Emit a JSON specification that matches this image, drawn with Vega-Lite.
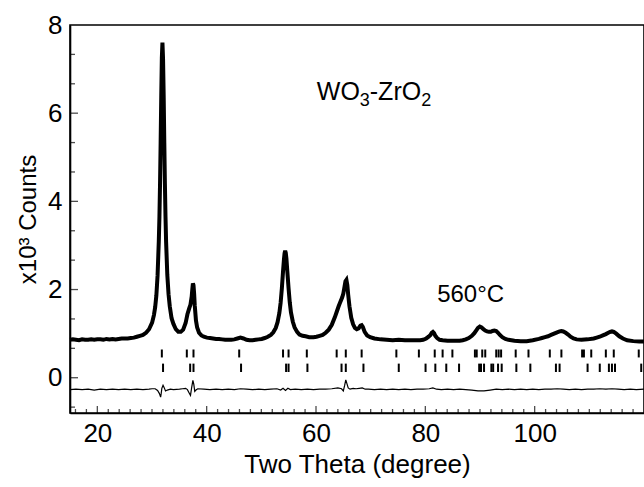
{
  "$schema": "https://vega.github.io/schema/vega-lite/v6.json",
  "width": 574,
  "height": 388,
  "autosize": "none",
  "padding": {"left": 70, "top": 25, "right": 0, "bottom": 74},
  "background": "white",
  "config": {
    "view": {"stroke": "black", "strokeWidth": 1.6},
    "font": "Liberation Sans",
    "axis": {"grid": false, "ticks": false, "tickSize": 0, "domainColor": "black", "domainWidth": 1.6, "labelColor": "black", "titleColor": "black", "labelFont": "Liberation Sans", "titleFont": "Liberation Sans", "titleFontWeight": "normal"}
  },
  "datasets": {
    "obs": [
      {"t":15.0,"c":0.86},{"t":15.53,"c":0.87},{"t":16.09,"c":0.86},{"t":16.65,"c":0.85},{"t":17.21,"c":0.87},{"t":17.76,"c":0.86},{"t":18.32,"c":0.86},{"t":18.88,"c":0.87},{"t":19.43,"c":0.86},{"t":19.99,"c":0.87},
      {"t":20.55,"c":0.87},{"t":21.10,"c":0.86},{"t":21.66,"c":0.88},{"t":22.22,"c":0.87},{"t":22.78,"c":0.88},{"t":23.33,"c":0.87},{"t":23.89,"c":0.88},{"t":24.45,"c":0.89},{"t":25.00,"c":0.89},{"t":25.56,"c":0.89},
      {"t":26.12,"c":0.90},{"t":26.68,"c":0.91},{"t":27.23,"c":0.93},{"t":27.79,"c":0.95},{"t":28.35,"c":0.97},{"t":28.90,"c":1.02},{"t":29.46,"c":1.10},{"t":30.02,"c":1.25},{"t":30.35,"c":1.42},{"t":30.58,"c":1.60},
      {"t":30.80,"c":1.87},{"t":31.02,"c":2.32},{"t":31.24,"c":3.08},{"t":31.36,"c":3.65},{"t":31.47,"c":4.40},{"t":31.58,"c":5.33},{"t":31.69,"c":6.36},{"t":31.80,"c":7.25},{"t":31.91,"c":7.60},{"t":32.02,"c":7.24},
      {"t":32.14,"c":6.36},{"t":32.25,"c":5.33},{"t":32.36,"c":4.40},{"t":32.47,"c":3.65},{"t":32.58,"c":3.08},{"t":32.80,"c":2.33},{"t":33.03,"c":1.89},{"t":33.25,"c":1.62},{"t":33.58,"c":1.35},{"t":33.92,"c":1.22},
      {"t":34.36,"c":1.10},{"t":34.81,"c":1.04},{"t":35.26,"c":1.04},{"t":35.70,"c":1.09},{"t":36.15,"c":1.24},{"t":36.48,"c":1.44},{"t":36.82,"c":1.58},{"t":37.04,"c":1.66},{"t":37.26,"c":1.84},{"t":37.37,"c":2.00},
      {"t":37.48,"c":2.14},{"t":37.59,"c":2.10},{"t":37.71,"c":1.90},{"t":37.82,"c":1.64},{"t":38.04,"c":1.30},{"t":38.26,"c":1.14},{"t":38.60,"c":1.02},{"t":39.04,"c":0.96},{"t":39.49,"c":0.93},{"t":40.05,"c":0.91},
      {"t":40.60,"c":0.90},{"t":41.16,"c":0.89},{"t":41.72,"c":0.88},{"t":42.27,"c":0.88},{"t":42.83,"c":0.87},{"t":43.39,"c":0.86},{"t":43.95,"c":0.86},{"t":44.50,"c":0.86},{"t":45.06,"c":0.87},{"t":45.62,"c":0.89},
      {"t":46.17,"c":0.91},{"t":46.73,"c":0.89},{"t":47.29,"c":0.86},{"t":47.85,"c":0.85},{"t":48.40,"c":0.85},{"t":48.96,"c":0.86},{"t":49.52,"c":0.87},{"t":50.07,"c":0.88},{"t":50.63,"c":0.90},{"t":51.19,"c":0.93},
      {"t":51.74,"c":0.97},{"t":52.19,"c":1.03},{"t":52.64,"c":1.13},{"t":52.97,"c":1.26},{"t":53.30,"c":1.47},{"t":53.53,"c":1.70},{"t":53.75,"c":2.02},{"t":53.97,"c":2.41},{"t":54.14,"c":2.69},{"t":54.25,"c":2.82},
      {"t":54.36,"c":2.88},{"t":54.47,"c":2.83},{"t":54.59,"c":2.70},{"t":54.75,"c":2.42},{"t":54.98,"c":2.03},{"t":55.20,"c":1.71},{"t":55.42,"c":1.48},{"t":55.76,"c":1.27},{"t":56.09,"c":1.14},{"t":56.54,"c":1.04},
      {"t":56.98,"c":0.98},{"t":57.54,"c":0.95},{"t":58.10,"c":0.94},{"t":58.76,"c":0.92},{"t":59.54,"c":0.92},{"t":60.10,"c":0.93},{"t":60.66,"c":0.95},{"t":61.22,"c":0.97},{"t":61.77,"c":1.02},{"t":62.33,"c":1.09},
      {"t":62.89,"c":1.20},{"t":63.44,"c":1.37},{"t":63.78,"c":1.49},{"t":64.11,"c":1.61},{"t":64.45,"c":1.72},{"t":64.78,"c":1.82},{"t":65.00,"c":1.91},{"t":65.23,"c":2.07},{"t":65.39,"c":2.19},{"t":65.56,"c":2.22},
      {"t":65.73,"c":2.10},{"t":65.89,"c":1.88},{"t":66.12,"c":1.62},{"t":66.45,"c":1.36},{"t":66.79,"c":1.21},{"t":67.12,"c":1.13},{"t":67.45,"c":1.10},{"t":67.79,"c":1.12},{"t":68.12,"c":1.18},{"t":68.35,"c":1.19},
      {"t":68.57,"c":1.15},{"t":68.90,"c":1.04},{"t":69.35,"c":0.96},{"t":69.91,"c":0.92},{"t":70.69,"c":0.89},{"t":71.80,"c":0.87},{"t":72.91,"c":0.86},{"t":74.03,"c":0.85},{"t":75.14,"c":0.86},{"t":76.26,"c":0.85},
      {"t":77.37,"c":0.85},{"t":78.48,"c":0.85},{"t":79.04,"c":0.85},{"t":79.60,"c":0.86},{"t":80.16,"c":0.89},{"t":80.60,"c":0.93},{"t":80.94,"c":0.97},{"t":81.16,"c":1.02},{"t":81.38,"c":1.04},{"t":81.60,"c":1.01},
      {"t":81.83,"c":0.95},{"t":82.16,"c":0.90},{"t":82.61,"c":0.86},{"t":83.16,"c":0.85},{"t":84.06,"c":0.84},{"t":85.17,"c":0.84},{"t":86.28,"c":0.84},{"t":86.84,"c":0.85},{"t":87.40,"c":0.87},{"t":87.95,"c":0.90},
      {"t":88.51,"c":0.95},{"t":88.96,"c":1.01},{"t":89.29,"c":1.07},{"t":89.63,"c":1.13},{"t":89.96,"c":1.16},{"t":90.29,"c":1.14},{"t":90.63,"c":1.10},{"t":90.96,"c":1.07},{"t":91.30,"c":1.05},{"t":91.63,"c":1.04},
      {"t":91.97,"c":1.04},{"t":92.30,"c":1.06},{"t":92.63,"c":1.07},{"t":92.97,"c":1.06},{"t":93.30,"c":1.02},{"t":93.64,"c":0.97},{"t":94.08,"c":0.92},{"t":94.64,"c":0.88},{"t":95.20,"c":0.86},{"t":95.75,"c":0.85},
      {"t":96.31,"c":0.84},{"t":97.43,"c":0.83},{"t":98.54,"c":0.83},{"t":99.65,"c":0.85},{"t":100.77,"c":0.88},{"t":101.33,"c":0.90},{"t":101.88,"c":0.92},{"t":102.44,"c":0.94},{"t":103.00,"c":0.97},{"t":103.55,"c":1.00},
      {"t":104.11,"c":1.03},{"t":104.56,"c":1.05},{"t":104.89,"c":1.06},{"t":105.23,"c":1.05},{"t":105.67,"c":1.02},{"t":106.12,"c":0.98},{"t":106.56,"c":0.93},{"t":107.12,"c":0.89},{"t":107.68,"c":0.87},{"t":108.57,"c":0.86},
      {"t":109.68,"c":0.87},{"t":110.80,"c":0.89},{"t":111.35,"c":0.91},{"t":111.91,"c":0.93},{"t":112.47,"c":0.96},{"t":113.02,"c":0.99},{"t":113.47,"c":1.02},{"t":113.80,"c":1.04},{"t":114.14,"c":1.05},{"t":114.47,"c":1.04},
      {"t":114.92,"c":1.00},{"t":115.48,"c":0.94},{"t":116.14,"c":0.89},{"t":116.92,"c":0.85},{"t":118.04,"c":0.83},{"t":119.15,"c":0.82},{"t":120.0,"c":0.82}
    ],
    "diff": [
      {"t":15.0,"d":-0.27},{"t":16.09,"d":-0.26},{"t":17.21,"d":-0.27},{"t":18.32,"d":-0.26},{"t":19.43,"d":-0.28},{"t":20.55,"d":-0.26},{"t":21.66,"d":-0.27},{"t":22.78,"d":-0.26},{"t":23.89,"d":-0.27},{"t":25.00,"d":-0.26},
      {"t":26.12,"d":-0.27},{"t":27.23,"d":-0.26},{"t":28.35,"d":-0.27},{"t":29.46,"d":-0.26},{"t":30.02,"d":-0.25},{"t":30.58,"d":-0.25},{"t":31.02,"d":-0.29},{"t":31.36,"d":-0.36},{"t":31.58,"d":-0.44},{"t":31.69,"d":-0.35},
      {"t":31.80,"d":-0.24},{"t":32.02,"d":-0.17},{"t":32.25,"d":-0.23},{"t":32.47,"d":-0.30},{"t":32.80,"d":-0.28},{"t":33.36,"d":-0.26},{"t":33.92,"d":-0.27},{"t":35.03,"d":-0.26},{"t":35.59,"d":-0.25},{"t":36.15,"d":-0.24},
      {"t":36.48,"d":-0.27},{"t":36.82,"d":-0.35},{"t":37.04,"d":-0.40},{"t":37.26,"d":-0.22},{"t":37.48,"d":-0.06},{"t":37.65,"d":-0.15},{"t":37.82,"d":-0.31},{"t":38.04,"d":-0.28},{"t":38.37,"d":-0.25},{"t":39.49,"d":-0.26},
      {"t":40.60,"d":-0.27},{"t":41.72,"d":-0.26},{"t":42.83,"d":-0.27},{"t":43.95,"d":-0.26},{"t":45.06,"d":-0.27},{"t":46.17,"d":-0.25},{"t":47.29,"d":-0.26},{"t":48.40,"d":-0.27},{"t":49.52,"d":-0.26},{"t":50.63,"d":-0.27},
      {"t":51.74,"d":-0.26},{"t":52.86,"d":-0.25},{"t":53.53,"d":-0.28},{"t":53.97,"d":-0.24},{"t":54.42,"d":-0.29},{"t":54.86,"d":-0.24},{"t":55.31,"d":-0.27},{"t":56.20,"d":-0.26},{"t":57.32,"d":-0.27},{"t":58.43,"d":-0.26},
      {"t":59.54,"d":-0.27},{"t":60.66,"d":-0.26},{"t":61.77,"d":-0.26},{"t":62.89,"d":-0.25},{"t":64.00,"d":-0.23},{"t":64.67,"d":-0.25},{"t":65.00,"d":-0.30},{"t":65.23,"d":-0.18},{"t":65.45,"d":-0.05},{"t":65.67,"d":-0.14},
      {"t":65.89,"d":-0.23},{"t":66.23,"d":-0.26},{"t":66.79,"d":-0.24},{"t":67.34,"d":-0.25},{"t":67.90,"d":-0.24},{"t":68.46,"d":-0.23},{"t":69.01,"d":-0.26},{"t":69.57,"d":-0.26},{"t":70.69,"d":-0.27},{"t":71.80,"d":-0.26},
      {"t":72.91,"d":-0.27},{"t":74.03,"d":-0.26},{"t":75.14,"d":-0.27},{"t":76.26,"d":-0.26},{"t":77.37,"d":-0.27},{"t":78.48,"d":-0.26},{"t":79.60,"d":-0.26},{"t":80.71,"d":-0.25},{"t":81.38,"d":-0.23},{"t":82.05,"d":-0.26},
      {"t":82.94,"d":-0.27},{"t":84.06,"d":-0.26},{"t":85.17,"d":-0.27},{"t":86.28,"d":-0.26},{"t":87.40,"d":-0.27},{"t":88.51,"d":-0.28},{"t":89.63,"d":-0.30},{"t":90.74,"d":-0.30},{"t":91.85,"d":-0.28},{"t":92.97,"d":-0.26},
      {"t":94.08,"d":-0.27},{"t":95.20,"d":-0.26},{"t":96.31,"d":-0.27},{"t":97.43,"d":-0.26},{"t":98.54,"d":-0.27},{"t":99.65,"d":-0.26},{"t":100.77,"d":-0.27},{"t":101.88,"d":-0.26},{"t":103.00,"d":-0.26},{"t":104.11,"d":-0.25},
      {"t":105.23,"d":-0.26},{"t":106.34,"d":-0.27},{"t":107.45,"d":-0.26},{"t":108.57,"d":-0.27},{"t":109.68,"d":-0.26},{"t":110.80,"d":-0.26},{"t":111.91,"d":-0.25},{"t":113.02,"d":-0.26},{"t":114.14,"d":-0.25},{"t":115.25,"d":-0.26},
      {"t":116.37,"d":-0.27},{"t":117.48,"d":-0.26},{"t":118.59,"d":-0.27},{"t":120.0,"d":-0.26}
    ],
    "bragg": [
      {"t":31.80,"p":1},{"t":36.37,"p":1},{"t":37.59,"p":1},{"t":45.95,"p":1},{"t":53.97,"p":1},{"t":54.98,"p":1},{"t":58.32,"p":1},{"t":63.78,"p":1},{"t":65.45,"p":1},{"t":68.35,"p":1},
      {"t":74.70,"p":1},{"t":78.82,"p":1},{"t":81.72,"p":1},{"t":83.16,"p":1},{"t":84.95,"p":1},{"t":89.07,"p":1},{"t":89.40,"p":1},{"t":90.41,"p":1},{"t":90.96,"p":1},{"t":92.97,"p":1},
      {"t":93.41,"p":1},{"t":93.86,"p":1},{"t":96.53,"p":1},{"t":98.87,"p":1},{"t":102.77,"p":1},{"t":104.89,"p":1},{"t":108.68,"p":1},{"t":109.01,"p":1},{"t":110.35,"p":1},{"t":113.02,"p":1},
      {"t":114.47,"p":1},{"t":119.04,"p":1},
      {"t":32.02,"p":2},{"t":36.98,"p":2},{"t":37.59,"p":2},{"t":46.29,"p":2},{"t":54.53,"p":2},{"t":54.98,"p":2},{"t":58.43,"p":2},{"t":64.67,"p":2},{"t":65.45,"p":2},{"t":68.68,"p":2},
      {"t":75.14,"p":2},{"t":80.04,"p":2},{"t":81.83,"p":2},{"t":83.83,"p":2},{"t":86.17,"p":2},{"t":89.85,"p":2},{"t":90.18,"p":2},{"t":90.74,"p":2},{"t":92.08,"p":2},{"t":92.41,"p":2},
      {"t":93.30,"p":2},{"t":93.97,"p":2},{"t":96.65,"p":2},{"t":99.21,"p":2},{"t":103.89,"p":2},{"t":104.56,"p":2},{"t":109.68,"p":2},{"t":111.91,"p":2},{"t":113.58,"p":2},{"t":114.14,"p":2},
      {"t":114.70,"p":2},{"t":119.49,"p":2}
    ],
    "xticks": [
      {"v":16,"m":0},{"v":18,"m":0},{"v":20,"m":1},{"v":22,"m":0},{"v":24,"m":0},{"v":26,"m":0},{"v":28,"m":0},{"v":30,"m":0},{"v":32,"m":0},{"v":34,"m":0},
      {"v":36,"m":0},{"v":38,"m":0},{"v":40,"m":1},{"v":42,"m":0},{"v":44,"m":0},{"v":46,"m":0},{"v":48,"m":0},{"v":50,"m":0},{"v":52,"m":0},{"v":54,"m":0},
      {"v":56,"m":0},{"v":58,"m":0},{"v":60,"m":1},{"v":62,"m":0},{"v":64,"m":0},{"v":66,"m":0},{"v":68,"m":0},{"v":70,"m":0},{"v":72,"m":0},{"v":74,"m":0},
      {"v":76,"m":0},{"v":78,"m":0},{"v":80,"m":1},{"v":82,"m":0},{"v":84,"m":0},{"v":86,"m":0},{"v":88,"m":0},{"v":90,"m":0},{"v":92,"m":0},{"v":94,"m":0},
      {"v":96,"m":0},{"v":98,"m":0},{"v":100,"m":1},{"v":102,"m":0},{"v":104,"m":0},{"v":106,"m":0},{"v":108,"m":0},{"v":110,"m":0},{"v":112,"m":0},{"v":114,"m":0},
      {"v":116,"m":0},{"v":118,"m":0}
    ],
    "yticks": [
      {"v":-0.6667,"m":0},{"v":0,"m":1},{"v":0.6667,"m":0},{"v":1.3333,"m":0},{"v":2,"m":1},{"v":2.6667,"m":0},{"v":3.3333,"m":0},{"v":4,"m":1},
      {"v":4.6667,"m":0},{"v":5.3333,"m":0},{"v":6,"m":1},{"v":6.6667,"m":0},{"v":7.3333,"m":0}
    ]
  },
  "layer": [
    {
      "data": {"name": "obs"},
      "mark": {"type": "line", "color": "black", "strokeWidth": 4},
      "encoding": {
        "x": {"field": "t", "type": "quantitative",
          "scale": {"domain": [15, 120], "nice": false, "zero": false},
          "axis": {
            "title": "Two Theta (degree)",
            "values": [20, 40, 60, 80, 100],
            "labelPadding": 7,
            "labelFontSize": 26,
            "labelFlush": false,
            "titleFontSize": 26,
            "titleY": 59,
            "titleBaseline": "alphabetic"
          }
        },
        "y": {"field": "c", "type": "quantitative",
          "scale": {"domain": [-0.8, 8], "nice": false, "zero": false},
          "axis": {
            "title": "x10³ Counts",
            "values": [0, 2, 4, 6, 8],
            "labelPadding": 8,
            "labelFontSize": 26,
            "labelFlush": false,
            "titleFontSize": 24,
            "titlePadding": 7
          }
        }
      }
    },
    {
      "data": {"name": "xticks"},
      "transform": [{"filter": "datum.m === 1"}],
      "mark": {"type": "tick", "orient": "vertical", "color": "black", "size": 14, "thickness": 1.3, "clip": true},
      "encoding": {
        "x": {"field": "v", "type": "quantitative"},
        "y": {"datum": -0.8, "type": "quantitative"}
      }
    },
    {
      "data": {"name": "xticks"},
      "transform": [{"filter": "datum.m === 0"}],
      "mark": {"type": "tick", "orient": "vertical", "color": "black", "size": 8, "thickness": 1.3, "clip": true},
      "encoding": {
        "x": {"field": "v", "type": "quantitative"},
        "y": {"datum": -0.8, "type": "quantitative"}
      }
    },
    {
      "data": {"name": "yticks"},
      "transform": [{"filter": "datum.m === 1"}],
      "mark": {"type": "tick", "orient": "horizontal", "color": "black", "size": 16, "thickness": 1.3, "clip": true},
      "encoding": {
        "y": {"field": "v", "type": "quantitative"},
        "x": {"datum": 15, "type": "quantitative"}
      }
    },
    {
      "data": {"name": "yticks"},
      "transform": [{"filter": "datum.m === 0"}],
      "mark": {"type": "tick", "orient": "horizontal", "color": "black", "size": 10, "thickness": 1.3, "clip": true},
      "encoding": {
        "y": {"field": "v", "type": "quantitative"},
        "x": {"datum": 15, "type": "quantitative"}
      }
    },
    {
      "data": {"name": "diff"},
      "mark": {"type": "line", "color": "black", "strokeWidth": 1.2},
      "encoding": {
        "x": {"field": "t", "type": "quantitative"},
        "y": {"field": "d", "type": "quantitative"}
      }
    },
    {
      "data": {"name": "bragg"},
      "transform": [{"filter": "datum.p === 1"}],
      "mark": {"type": "rule", "color": "black", "strokeWidth": 2},
      "encoding": {
        "x": {"field": "t", "type": "quantitative"},
        "y": {"datum": 0.46, "type": "quantitative"},
        "y2": {"datum": 0.64}
      }
    },
    {
      "data": {"name": "bragg"},
      "transform": [{"filter": "datum.p === 2"}],
      "mark": {"type": "rule", "color": "black", "strokeWidth": 2},
      "encoding": {
        "x": {"field": "t", "type": "quantitative"},
        "y": {"datum": 0.13, "type": "quantitative"},
        "y2": {"datum": 0.32}
      }
    },
    {
      "data": {"values": [{}]},
      "mark": {"type": "text", "fontSize": 25, "align": "left", "baseline": "alphabetic", "color": "black", "font": "Liberation Sans", "dx": -57},
      "encoding": {
        "x": {"datum": 70.57, "type": "quantitative"},
        "y": {"datum": 6.29, "type": "quantitative"},
        "text": {"value": "WO"}
      }
    },
    {
      "data": {"values": [{}]},
      "mark": {"type": "text", "fontSize": 18, "align": "left", "baseline": "alphabetic", "color": "black", "font": "Liberation Sans", "dx": -14, "dy": 6},
      "encoding": {
        "x": {"datum": 70.57, "type": "quantitative"},
        "y": {"datum": 6.29, "type": "quantitative"},
        "text": {"value": "3"}
      }
    },
    {
      "data": {"values": [{}]},
      "mark": {"type": "text", "fontSize": 25, "align": "left", "baseline": "alphabetic", "color": "black", "font": "Liberation Sans", "dx": -4},
      "encoding": {
        "x": {"datum": 70.57, "type": "quantitative"},
        "y": {"datum": 6.29, "type": "quantitative"},
        "text": {"value": "-ZrO"}
      }
    },
    {
      "data": {"values": [{}]},
      "mark": {"type": "text", "fontSize": 18, "align": "left", "baseline": "alphabetic", "color": "black", "font": "Liberation Sans", "dx": 47.5, "dy": 6},
      "encoding": {
        "x": {"datum": 70.57, "type": "quantitative"},
        "y": {"datum": 6.29, "type": "quantitative"},
        "text": {"value": "2"}
      }
    },
    {
      "data": {"values": [{}]},
      "mark": {"type": "text", "fontSize": 24, "align": "center", "baseline": "alphabetic", "color": "black", "font": "Liberation Sans"},
      "encoding": {
        "x": {"datum": 88.29, "type": "quantitative"},
        "y": {"datum": 1.72, "type": "quantitative"},
        "text": {"value": "560°C"}
      }
    }
  ]
}
